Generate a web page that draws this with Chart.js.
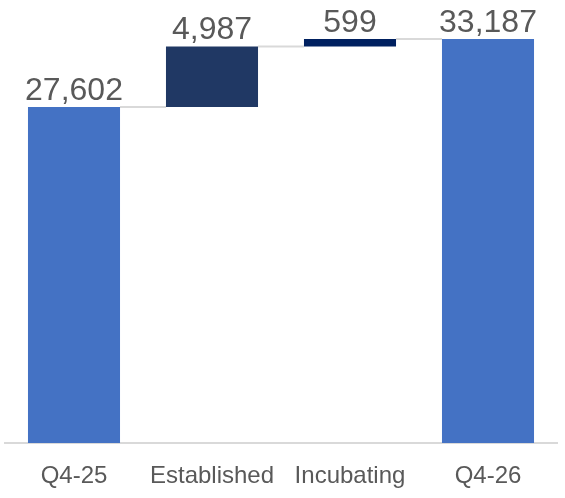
<!DOCTYPE html>
<html>
<head>
<meta charset="utf-8">
<script src="https://cdn.jsdelivr.net/npm/chart.js@4/dist/chart.umd.min.js"></script>
<style>
  html, body { margin: 0; padding: 0; background: #fff; }
  #wrap { width: 565px; height: 498px; }
</style>
</head>
<body>
<div id="wrap"><canvas id="chart"></canvas></div>
<script>
// Waterfall: start, two increments, end
const categories = ['Q4-25', 'Established', 'Incubating', 'Q4-26'];
const values = [27602, 4987, 599, 33187];
const kinds = ['total', 'delta', 'delta', 'total'];
const barColors = ['#4472C4', '#203864', '#002060', '#4472C4'];

// build floating ranges from the values
const ranges = [];
let running = 0;
values.forEach((v, i) => {
  if (kinds[i] === 'total') {
    ranges.push([0, v]);
    running = v;
  } else {
    ranges.push([running, running + v]);
    running += v;
  }
});

const fmt = n => n.toLocaleString('en-US');

// grey connectors between bar tops
const connectors = {
  id: 'connectors',
  beforeDatasetsDraw(chart) {
    const ctx = chart.ctx;
    const meta = chart.getDatasetMeta(0);
    const y = chart.scales.y;
    ctx.save();
    ctx.strokeStyle = '#D9D9D9';
    ctx.lineWidth = 2;
    for (let i = 0; i < meta.data.length - 1; i++) {
      const a = meta.data[i], b = meta.data[i + 1];
      const level = y.getPixelForValue(ranges[i][1]);
      ctx.beginPath();
      ctx.moveTo(a.x + a.width / 2, level);
      ctx.lineTo(b.x - b.width / 2, level);
      ctx.stroke();
    }
    ctx.restore();
  }
};

// value labels above each bar
const valueLabels = {
  id: 'valueLabels',
  afterDatasetsDraw(chart) {
    const ctx = chart.ctx;
    const meta = chart.getDatasetMeta(0);
    const y = chart.scales.y;
    ctx.save();
    ctx.fillStyle = '#595959';
    ctx.font = '32px "Liberation Sans", Arial, sans-serif';
    ctx.textAlign = 'center';
    ctx.textBaseline = 'alphabetic';
    meta.data.forEach((bar, i) => {
      const top = y.getPixelForValue(ranges[i][1]);
      ctx.fillText(fmt(values[i]), bar.x, top - 7);
    });
    ctx.restore();
  }
};

new Chart(document.getElementById('chart'), {
  type: 'bar',
  data: {
    labels: categories,
    datasets: [{
      data: ranges,
      backgroundColor: barColors,
      borderWidth: 0,
      categoryPercentage: 1,
      barPercentage: 0.667
    }]
  },
  options: {
    responsive: true,
    maintainAspectRatio: false,
    animation: false,
    layout: { padding: { left: 5, right: 8, top: 0, bottom: 0 } },
    plugins: {
      legend: { display: false },
      tooltip: { enabled: false }
    },
    scales: {
      x: {
        grid: { display: false, drawTicks: false },
        border: { display: true, color: '#D9D9D9', width: 2 },
        ticks: {
          color: '#595959',
          font: { family: '"Liberation Sans", Arial, sans-serif', size: 24 },
          padding: 19,
          maxRotation: 0
        },
        afterFit(scale) { scale.height = 55; }
      },
      y: {
        display: false,
        min: 0,
        max: 36400
      }
    }
  },
  plugins: [connectors, valueLabels]
});
</script>
</body>
</html>
